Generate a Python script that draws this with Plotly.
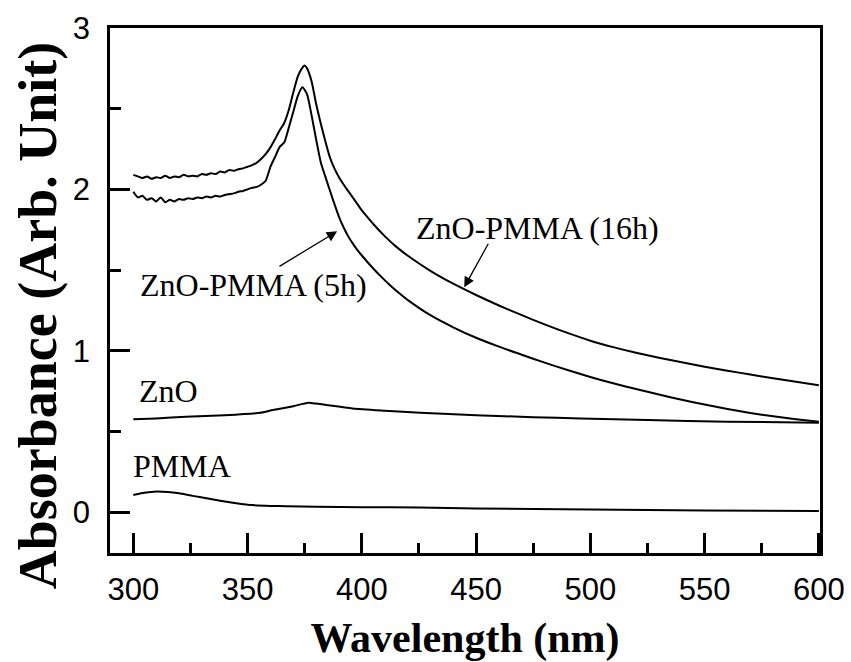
import plotly.graph_objects as go

# Absorption spectra (wavelength in nm, absorbance in arb. units)
wl_16h = [300, 302, 304, 306, 308, 310, 312, 314, 316, 318, 320, 322, 324, 326, 328,
          330, 332, 334, 336, 338, 340, 342, 344, 346, 348, 350, 352, 354, 356, 358,
          360, 362, 364, 366, 368, 370, 372, 374, 375, 376, 378, 380, 382, 384, 386,
          388, 390, 392, 394, 396, 398, 400, 402, 405, 410, 415, 420, 430, 440, 450,
          460, 470, 480, 490, 500, 510, 520, 530, 540, 550, 560, 570, 580, 590, 600]
abs_16h = [2.09, 2.08, 2.07, 2.08, 2.065, 2.075, 2.07, 2.085, 2.07, 2.08, 2.075, 2.09,
           2.08, 2.085, 2.08, 2.095, 2.09, 2.10, 2.095, 2.11, 2.105, 2.12, 2.115, 2.125,
           2.13, 2.14, 2.15, 2.165, 2.19, 2.22, 2.26, 2.31, 2.365, 2.41, 2.49, 2.60,
           2.70, 2.755, 2.768, 2.75, 2.67, 2.53, 2.41, 2.30, 2.20, 2.13, 2.075, 2.03,
           1.99, 1.95, 1.91, 1.87, 1.835, 1.785, 1.71, 1.645, 1.59, 1.495, 1.415,
           1.345, 1.28, 1.22, 1.163, 1.11, 1.062, 1.022, 0.987, 0.956, 0.928, 0.901,
           0.876, 0.852, 0.829, 0.807, 0.786]

wl_5h = [300, 302, 304, 306, 308, 310, 312, 314, 316, 318, 320, 322, 324, 326, 328,
         330, 332, 334, 336, 338, 340, 342, 344, 346, 348, 350, 352, 354, 356, 358,
         360, 362, 364, 366, 368, 370, 372, 374, 376, 378, 380, 382, 384, 386, 388,
         390, 392, 394, 396, 398, 400, 404, 408, 412, 416, 420, 430, 440, 450, 460,
         470, 480, 490, 500, 510, 520, 530, 540, 550, 560, 570, 580, 590, 600]
abs_5h = [1.985, 1.95, 1.96, 1.935, 1.945, 1.925, 1.95, 1.92, 1.935, 1.925, 1.94,
          1.935, 1.945, 1.94, 1.95, 1.945, 1.955, 1.95, 1.96, 1.955, 1.965, 1.97,
          1.975, 1.985, 1.99, 2.0, 2.01, 2.015, 2.03, 2.055, 2.14, 2.2, 2.262, 2.29,
          2.38, 2.48, 2.58, 2.633, 2.59, 2.46, 2.31, 2.17, 2.08, 1.994, 1.91, 1.83,
          1.765, 1.71, 1.665, 1.625, 1.59, 1.525, 1.465, 1.41, 1.36, 1.315, 1.22,
          1.145, 1.08, 1.025, 0.975, 0.926, 0.88, 0.837, 0.798, 0.762, 0.728, 0.696,
          0.666, 0.639, 0.614, 0.593, 0.575, 0.559]

wl_zno = [300, 310, 323, 340, 355.5, 361, 366, 370, 376.6, 380, 384.6, 396, 410,
          425.5, 450, 475, 495.6, 525, 560, 600]
abs_zno = [0.575, 0.58, 0.59, 0.60, 0.615, 0.632, 0.645, 0.656, 0.677, 0.672, 0.663,
           0.642, 0.628, 0.615, 0.60, 0.588, 0.58, 0.57, 0.56, 0.553]

wl_pmma = [300, 304, 309, 315, 320, 326, 332, 338, 345, 352, 360, 367, 380, 400,
           425, 450, 500, 550, 600]
abs_pmma = [0.105, 0.118, 0.126, 0.124, 0.116, 0.10, 0.085, 0.07, 0.055, 0.043,
            0.038, 0.036, 0.033, 0.03, 0.028, 0.022, 0.015, 0.01, 0.006]

x_ticks = [300, 350, 400, 450, 500, 550, 600]
y_ticks = [0, 1, 2, 3]

series = [(wl_16h, abs_16h), (wl_5h, abs_5h), (wl_zno, abs_zno), (wl_pmma, abs_pmma)]

fig = go.Figure()
for xs, ys in series:
    fig.add_trace(go.Scatter(x=xs, y=ys, mode="lines",
                             line=dict(color="black", width=2, shape="spline",
                                       smoothing=0.6),
                             showlegend=False))

serif = "Liberation Serif, Times New Roman, serif"
label_font = dict(family=serif, size=32, color="black")

labels = [
    ("ZnO", 315.2, 0.75),
    ("PMMA", 321.1, 0.285),
    ("ZnO-PMMA (16h)", 477, 1.76),
    ("ZnO-PMMA (5h)", 352.8, 1.41),
]
for text, lx, ly in labels:
    fig.add_annotation(x=lx, y=ly, xref="x", yref="y", text=text, showarrow=False,
                       font=label_font, xanchor="center", yanchor="middle")

# pointer arrows from the labels to their curves
arrows = [((363.3, 1.517), (389.2, 1.74)), ((455.7, 1.672), (444.8, 1.393))]
for (tx, ty), (hx, hy) in arrows:
    fig.add_annotation(x=hx, y=hy, ax=tx, ay=ty, xref="x", yref="y",
                       axref="x", ayref="y", text="", showarrow=True,
                       arrowhead=2, arrowsize=1.6, arrowwidth=1.3, arrowcolor="black")

# y-axis title, rotated and placed in the left margin
fig.add_annotation(x=-0.102, y=0.452, xref="paper", yref="paper",
                   text="<b>Absorbance (Arb. Unit)</b>", showarrow=False,
                   textangle=-90, xanchor="center", yanchor="middle",
                   font=dict(family=serif, size=54, color="black"))

axis_common = dict(showline=True, linecolor="black", linewidth=2.5, mirror=True,
                   ticks="inside", ticklen=20, tickwidth=2.5, tickcolor="black",
                   showgrid=False, zeroline=False,
                   tickfont=dict(family="Liberation Sans, Arial, sans-serif",
                                 size=31, color="black"))

fig.update_xaxes(range=[289.8, 600.5], tickvals=x_ticks,
                 ticktext=[str(v) for v in x_ticks], ticklabelstandoff=7,
                 minor=dict(dtick=25, ticklen=10, ticks="inside", tickwidth=2.5,
                            tickcolor="black", showgrid=False),
                 title=dict(text="<b>Wavelength (nm)</b>", standoff=20,
                            font=dict(family=serif, size=42, color="black")),
                 **axis_common)
fig.update_yaxes(range=[-0.254, 3.0], tickvals=y_ticks,
                 ticktext=[str(v) for v in y_ticks], ticklabelstandoff=11,
                 minor=dict(dtick=0.5, ticklen=11, ticks="inside", tickwidth=2.5,
                            tickcolor="black", showgrid=False),
                 **axis_common)

fig.update_layout(width=851, height=662, plot_bgcolor="white", paper_bgcolor="white",
                  margin=dict(l=110, r=31, t=28, b=109, autoexpand=False))

fig.write_html("out.html")
